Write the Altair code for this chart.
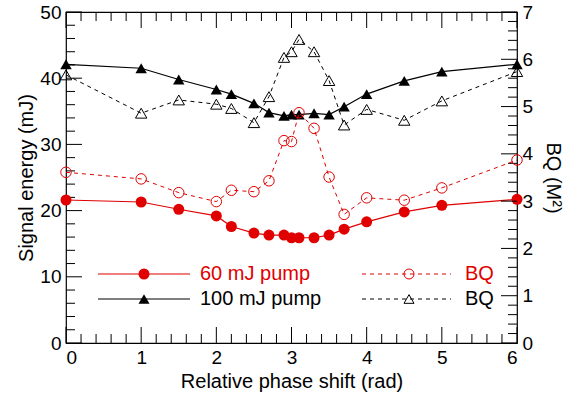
import altair as alt
import pandas as pd

# ---------------- data ----------------
phase = [0, 1, 1.5, 2, 2.2, 2.5, 2.7, 2.9, 3.0, 3.1, 3.3, 3.5, 3.7, 4.0, 4.5, 5.0, 6.0]
signal_60 = [21.6, 21.3, 20.2, 19.2, 17.6, 16.6, 16.3, 16.3, 15.9, 15.9, 15.9, 16.3, 17.2, 18.3, 19.8, 20.8, 21.7]
signal_100 = [42.1, 41.5, 39.8, 38.3, 37.6, 36.2, 34.8, 34.3, 34.5, 34.5, 34.7, 34.5, 35.7, 37.6, 39.6, 41.0, 42.1]
bq_60 = [3.61, 3.47, 3.18, 2.99, 3.23, 3.20, 3.43, 4.28, 4.26, 4.87, 4.54, 3.51, 2.72, 3.07, 3.02, 3.28, 3.87]
bq_100 = [5.67, 4.86, 5.14, 5.05, 4.96, 4.66, 5.21, 6.04, 6.16, 6.42, 6.16, 5.55, 4.61, 4.94, 4.71, 5.12, 5.74]

x_labels = [0, 1, 2, 3, 4, 5, 6]
left_labels = [0, 10, 20, 30, 40, 50]
right_labels = [0, 1, 2, 3, 4, 5, 6, 7]
x_minor = [round(i * 0.2, 1) for i in range(31)]
left_minor = [i * 2 for i in range(26)]
right_minor = [round(i * 0.2, 1) for i in range(36)]

legend_labels = ["60 mJ pump", "100 mJ pump", "BQ", "BQ"]

# ---------------- style ----------------
RED = "#e00000"
BLACK = "#000000"
FONT = "Liberation Sans"
W, H = 451, 331
MAJ, MIN = 16, 9

x_scale = alt.Scale(domain=[0, 6], nice=False, zero=False)
yl_scale = alt.Scale(domain=[0, 50], nice=False, zero=False)
yr_scale = alt.Scale(domain=[0, 7], nice=False, zero=False)

x_enc = alt.X("x:Q", scale=x_scale,
              axis=alt.Axis(values=x_labels, title="Relative phase shift (rad)",
                            labelPadding=5, titlePadding=4, format="d"))
yl_enc = alt.Y("y:Q", scale=yl_scale,
               axis=alt.Axis(values=left_labels, title="Signal energy (mJ)",
                             orient="left", labelPadding=5, titlePadding=3, format="d"))
yr_enc = alt.Y("y:Q", scale=yr_scale,
               axis=alt.Axis(values=right_labels, title="BQ (M²)",
                             orient="right", labelPadding=5, titlePadding=10, format="d"))


def df(y):
    return pd.DataFrame({"x": phase, "y": y})


# ---- tick marks (inward) ----
x_ticks_layers = []
for vals, L in [(x_labels, MAJ), ([v for v in x_minor if v not in x_labels], MIN)]:
    base = alt.Chart(pd.DataFrame({"x": vals}))
    x_ticks_layers.append(base.mark_rule(color=BLACK, strokeWidth=1).encode(
        x=x_enc, y=alt.value(H), y2=alt.value(H - L)))
    x_ticks_layers.append(base.mark_rule(color=BLACK, strokeWidth=1).encode(
        x=x_enc, y=alt.value(0), y2=alt.value(L)))

left_tick_layers = []
for vals, L in [(left_labels, MAJ), ([v for v in left_minor if v not in left_labels], MIN)]:
    left_tick_layers.append(alt.Chart(pd.DataFrame({"y": vals})).mark_rule(color=BLACK, strokeWidth=1).encode(
        y=yl_enc, x=alt.value(0), x2=alt.value(L)))

right_tick_layers = []
for vals, L in [(right_labels, MAJ), ([v for v in right_minor if v not in right_labels], MIN)]:
    right_tick_layers.append(alt.Chart(pd.DataFrame({"y": vals})).mark_rule(color=BLACK, strokeWidth=1).encode(
        y=yr_enc, x=alt.value(W), x2=alt.value(W - L)))

# ---- series ----
line60 = alt.Chart(df(signal_60)).mark_line(
    color=RED, strokeWidth=1.2,
    point=alt.OverlayMarkDef(shape="circle", size=121, filled=True, color=RED, opacity=1)
).encode(x=x_enc, y=yl_enc)

line100 = alt.Chart(df(signal_100)).mark_line(
    color=BLACK, strokeWidth=1.2,
    point=alt.OverlayMarkDef(shape="triangle-up", size=130, filled=True, color=BLACK, opacity=1)
).encode(x=x_enc, y=yl_enc)

bq60 = alt.Chart(df(bq_60)).mark_line(
    color=RED, strokeWidth=1, strokeDash=[4, 4],
    point=alt.OverlayMarkDef(shape="circle", size=110, filled=False, color=RED, strokeWidth=1, opacity=1)
).encode(x=x_enc, y=yr_enc)

bq100 = alt.Chart(df(bq_100)).mark_line(
    color=BLACK, strokeWidth=1, strokeDash=[4, 4],
    point=alt.OverlayMarkDef(shape="triangle-up", size=130, filled=False, color=BLACK, strokeWidth=1, opacity=1)
).encode(x=x_enc, y=yr_enc)

# ---- legend (drawn inside the plot) ----
def legend_entry(label, color, dash, shape, filled, x0, x1, xm, xt_, yy):
    base = alt.Chart(pd.DataFrame({"label": [label]}))
    rule_kw = dict(color=color, strokeWidth=1.2 if dash is None else 1)
    if dash is not None:
        rule_kw["strokeDash"] = dash
    line = base.mark_rule(**rule_kw).encode(x=alt.value(x0), x2=alt.value(x1), y=alt.value(yy))
    pt = base.mark_point(shape=shape, filled=filled, color=color, opacity=1,
                         size=121 if filled else 100, strokeWidth=1).encode(
        x=alt.value(xm), y=alt.value(yy))
    txt = base.mark_text(align="left", baseline="middle", font=FONT, fontSize=20, color=color).encode(
        x=alt.value(xt_), y=alt.value(yy), text="label:N")
    return [line, pt, txt]


R1, R2 = 262, 287
legend_layers = []
legend_layers += legend_entry(legend_labels[0], RED, None, "circle", True, 32, 124, 78, 134, R1)
legend_layers += legend_entry(legend_labels[1], BLACK, None, "triangle-up", True, 32, 124, 78, 134, R2)
legend_layers += legend_entry(legend_labels[2], RED, [4, 4], "circle", False, 296, 385, 343, 399, R1)
legend_layers += legend_entry(legend_labels[3], BLACK, [4, 4], "triangle-up", False, 296, 385, 343, 399, R2)

left_group = alt.layer(*left_tick_layers, *x_ticks_layers, line60, line100)
right_group = alt.layer(*right_tick_layers, bq60, bq100)
legend_group = alt.layer(*legend_layers)

chart = alt.layer(left_group, right_group, legend_group).resolve_scale(
    y="independent"
).properties(
    width=W, height=H,
    padding={"left": 66, "top": 12, "right": 52, "bottom": 57},
    autosize=alt.AutoSizeParams(type="none"),
    background="white",
).configure_view(
    stroke=BLACK, strokeWidth=1.2
).configure_axis(
    labelFont=FONT, titleFont=FONT, labelFontSize=19, titleFontSize=20,
    titleFontWeight="normal", labelColor=BLACK, titleColor=BLACK,
    ticks=False, domain=False, grid=False,
)

chart.save("out.html", embed_options={"renderer": "svg", "actions": False})
